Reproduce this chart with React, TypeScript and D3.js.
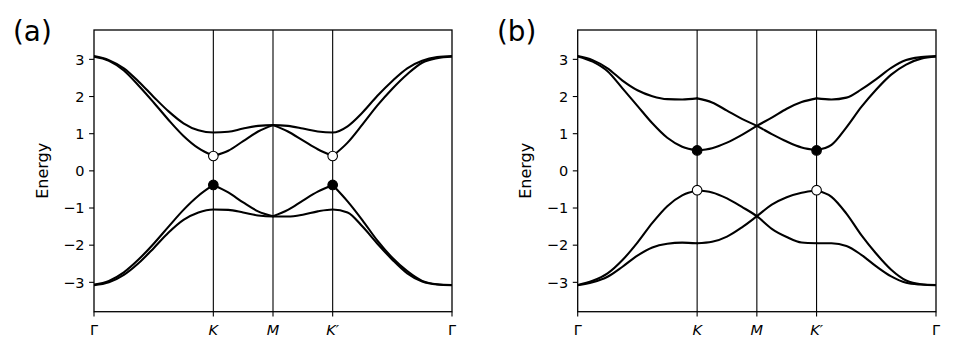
import React from "react";
import * as d3 from "d3";

// k-path coordinate (Γ=0, K=2, M=3, K'=4, Γ=6)
const kPath = [0, 0.25, 0.5, 0.75, 1, 1.25, 1.5, 1.75, 2, 2.25, 2.5, 2.75, 3, 3.25, 3.5, 3.75, 4, 4.25, 4.5, 4.75, 5, 5.25, 5.5, 5.75, 6];
const xTickPos = [0, 2, 3, 4, 6];
const xTickLabels = ["Γ", "K", "M", "K′", "Γ"];
const xTickItalic = [false, true, true, true, false];
const yTicks = [-3, -2, -1, 0, 1, 2, 3];
const symLines = [2, 3, 4];

// Panel (a) bands
const aBand4 = [3.09, 2.98, 2.76, 2.4, 1.99, 1.6, 1.28, 1.09, 1.03, 1.05, 1.14, 1.21, 1.23, 1.21, 1.14, 1.06, 1.03, 1.2, 1.57, 2.02, 2.42, 2.76, 2.96, 3.06, 3.09];
const aBand3 = [3.07, 2.96, 2.7, 2.29, 1.84, 1.37, 0.94, 0.61, 0.4, 0.54, 0.8, 1.06, 1.23, 1.06, 0.82, 0.58, 0.4, 0.76, 1.25, 1.76, 2.21, 2.6, 2.91, 3.03, 3.07];
const aBand2 = [-3.06, -2.96, -2.73, -2.38, -1.96, -1.5, -1.05, -0.67, -0.38, -0.58, -0.85, -1.09, -1.22, -1.05, -0.8, -0.56, -0.38, -0.82, -1.33, -1.88, -2.34, -2.7, -2.96, -3.05, -3.07];
const aBand1 = [-3.08, -3.0, -2.8, -2.48, -2.08, -1.66, -1.32, -1.12, -1.04, -1.05, -1.12, -1.2, -1.23, -1.23, -1.18, -1.09, -1.04, -1.12, -1.5, -1.96, -2.39, -2.76, -2.98, -3.06, -3.08];

// Panel (b) bands
const bBandA = [3.09, 2.98, 2.76, 2.43, 2.17, 2.01, 1.93, 1.92, 1.95, 1.84, 1.62, 1.4, 1.21, 0.99, 0.79, 0.63, 0.56, 0.7, 1.17, 1.72, 2.19, 2.59, 2.86, 3.02, 3.07];
const bBandB = [3.08, 2.94, 2.68, 2.22, 1.75, 1.28, 0.89, 0.65, 0.55, 0.61, 0.76, 0.97, 1.21, 1.43, 1.67, 1.85, 1.95, 1.92, 1.97, 2.19, 2.47, 2.77, 2.98, 3.06, 3.09];
const bBandC = [-3.07, -2.96, -2.76, -2.4, -1.93, -1.4, -0.95, -0.66, -0.53, -0.58, -0.74, -0.97, -1.22, -1.56, -1.78, -1.93, -1.95, -1.95, -2.02, -2.26, -2.57, -2.84, -3.01, -3.06, -3.08];
const bBandD = [-3.08, -3.0, -2.85, -2.58, -2.28, -2.06, -1.96, -1.93, -1.95, -1.91, -1.77, -1.52, -1.22, -0.91, -0.71, -0.59, -0.53, -0.7, -1.15, -1.73, -2.23, -2.66, -2.95, -3.05, -3.07];

// Marker points [k, E]
const aOpen = [[2, 0.4], [4, 0.4]];
const aFilled = [[2, -0.38], [4, -0.38]];
const bOpen = [[2, -0.52], [4, -0.52]];
const bFilled = [[2, 0.55], [4, 0.55]];

type Band = { values: number[]; kinks: number[] };

const panels = [
  {
    label: "(a)",
    x0: 94,
    x1: 452,
    labelX: 13,
    yLabelX: 48,
    bands: [
      { values: aBand4, kinks: [] },
      { values: aBand3, kinks: [2, 3, 4] },
      { values: aBand2, kinks: [2, 3, 4] },
      { values: aBand1, kinks: [] },
    ] as Band[],
    open: aOpen,
    filled: aFilled,
  },
  {
    label: "(b)",
    x0: 577.7,
    x1: 936,
    labelX: 497,
    yLabelX: 531,
    bands: [
      { values: bBandA, kinks: [2, 4] },
      { values: bBandB, kinks: [2, 4] },
      { values: bBandC, kinks: [2, 4] },
      { values: bBandD, kinks: [2, 4] },
    ] as Band[],
    open: bOpen,
    filled: bFilled,
  },
];

const TOP = 30;
const BOTTOM = 311.7;
const FONT = "'DejaVu Sans', sans-serif";

function segmentsFor(values: number[], kinks: number[]) {
  const bounds = [0, ...kinks, 6];
  const segs: [number, number][][] = [];
  for (let i = 0; i < bounds.length - 1; i++) {
    const a = bounds[i];
    const b = bounds[i + 1];
    const pts: [number, number][] = [];
    kPath.forEach((k, j) => {
      if (k >= a - 1e-9 && k <= b + 1e-9) pts.push([k, values[j]]);
    });
    segs.push(pts);
  }
  return segs;
}

function Panel({ p }: { p: (typeof panels)[number] }) {
  const x = d3.scaleLinear().domain([0, 6]).range([p.x0, p.x1]);
  const y = d3.scaleLinear().domain([-3.79, 3.79]).range([BOTTOM, TOP]);
  const line = d3
    .line<[number, number]>()
    .x((d) => x(d[0]))
    .y((d) => y(d[1]))
    .curve(d3.curveMonotoneX);
  const clipId = "clip" + p.label.replace(/[()]/g, "");
  return (
    <g>
      <defs>
        <clipPath id={clipId}>
          <rect x={p.x0} y={TOP} width={p.x1 - p.x0} height={BOTTOM - TOP} />
        </clipPath>
      </defs>
      {symLines.map((k) => (
        <line key={k} x1={x(k)} x2={x(k)} y1={TOP} y2={BOTTOM} stroke="#000" strokeWidth={1.1} />
      ))}
      <g clipPath={`url(#${clipId})`}>
        {p.bands.map((b, i) =>
          segmentsFor(b.values, b.kinks).map((seg, j) => (
            <path
              key={i + "-" + j}
              d={line(seg) || ""}
              fill="none"
              stroke="#000"
              strokeWidth={2.1}
              strokeLinecap="round"
              strokeLinejoin="round"
            />
          ))
        )}
      </g>
      {p.filled.map((d, i) => (
        <circle key={"f" + i} cx={x(d[0])} cy={y(d[1])} r={4.8} fill="#000" stroke="#000" strokeWidth={1.1} />
      ))}
      {p.open.map((d, i) => (
        <circle key={"o" + i} cx={x(d[0])} cy={y(d[1])} r={4.8} fill="#fff" stroke="#000" strokeWidth={1.1} />
      ))}
      <rect x={p.x0} y={TOP} width={p.x1 - p.x0} height={BOTTOM - TOP} fill="none" stroke="#000" strokeWidth={1.3} />
      {yTicks.map((t) => (
        <g key={t}>
          <line x1={p.x0 - 4.9} x2={p.x0} y1={y(t)} y2={y(t)} stroke="#000" strokeWidth={1.1} />
          <text
            x={p.x0 - 9.5}
            y={y(t)}
            dy="0.36em"
            textAnchor="end"
            fontFamily={FONT}
            fontSize={14.5}
            fill="#000"
          >
            {t < 0 ? "−" + Math.abs(t) : String(t)}
          </text>
        </g>
      ))}
      {xTickPos.map((k, i) => (
        <g key={i}>
          <line x1={x(k)} x2={x(k)} y1={BOTTOM} y2={BOTTOM + 4.9} stroke="#000" strokeWidth={1.1} />
          <text
            x={x(k)}
            y={334.5}
            textAnchor="middle"
            fontFamily={FONT}
            fontSize={14.5}
            fontStyle={xTickItalic[i] ? "italic" : "normal"}
            fill="#000"
          >
            {xTickLabels[i]}
          </text>
        </g>
      ))}
      <text
        transform={`translate(${p.yLabelX},${(TOP + BOTTOM) / 2}) rotate(-90)`}
        textAnchor="middle"
        fontFamily={FONT}
        fontSize={16}
        fill="#000"
      >
        Energy
      </text>
      <text x={p.labelX} y={40.5} fontFamily={FONT} fontSize={27.8} fill="#000">
        {p.label}
      </text>
    </g>
  );
}

export default function App() {
  return (
    <svg
      width={960}
      height={360}
      style={{ position: "absolute", left: 0, top: 0, background: "#fff" }}
    >
      <rect x={0} y={0} width={960} height={360} fill="#fff" />
      {panels.map((p) => (
        <Panel key={p.label} p={p} />
      ))}
    </svg>
  );
}
